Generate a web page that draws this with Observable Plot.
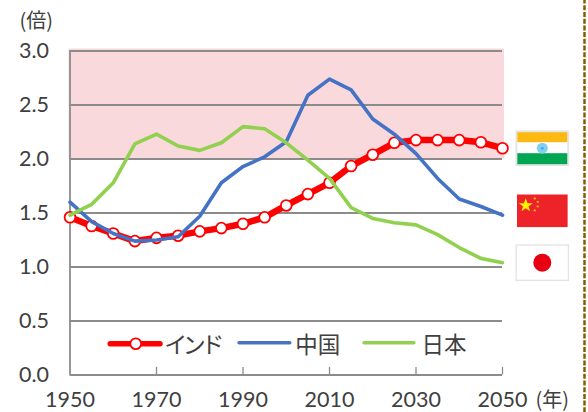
<!DOCTYPE html>
<html><head><meta charset="utf-8">
<script src="https://cdn.jsdelivr.net/npm/d3@7"></script>
<script src="https://cdn.jsdelivr.net/npm/@observablehq/plot@0.6"></script>
<style>html,body{margin:0;padding:0;background:#fff}svg{display:block}</style>
</head><body><div id="chart"></div>
<script>
const years = [1950,1955,1960,1965,1970,1975,1980,1985,1990,1995,2000,2005,2010,2015,2020,2025,2030,2035,2040,2045,2050];
const india = [1.46,1.38,1.31,1.24,1.27,1.29,1.33,1.36,1.40,1.46,1.57,1.675,1.78,1.935,2.04,2.15,2.175,2.175,2.175,2.155,2.10];
const china = [1.60,1.42,1.31,1.24,1.25,1.28,1.47,1.78,1.93,2.02,2.16,2.59,2.74,2.64,2.37,2.23,2.05,1.82,1.63,1.56,1.48];
const japan = [1.48,1.58,1.78,2.14,2.23,2.12,2.08,2.15,2.30,2.28,2.15,1.99,1.82,1.55,1.45,1.41,1.39,1.30,1.18,1.08,1.04];
const yTicks = [0,0.5,1,1.5,2,2.5,3];
const xTicks = [1950,1970,1990,2010,2030,2050];
const xMinor = [1970,1990,2010,2030,2050];
const RED="#ff0000", BLUE="#4472c4", GREEN="#92d050", GRID="#8c8c8c", TXT="#404040";
const font = "'Noto Sans CJK JP','Noto Sans',sans-serif";
const numFont = "Lato,'Noto Sans',sans-serif";

const svgUri = s => "data:image/svg+xml;utf8," + encodeURIComponent(s);
const flagIndia = svgUri(`<svg xmlns="http://www.w3.org/2000/svg" width="54" height="36"><rect width="54" height="36" fill="#e3e3e3"/><rect x="2" y="2" width="50" height="32" fill="#fff"/><rect x="2" y="2" width="50" height="10" fill="#fdb913"/><rect x="2" y="23" width="50" height="11" fill="#00a651"/><circle cx="27" cy="18" r="5.5" fill="#7fd0f2"/><circle cx="27" cy="18" r="1.3" fill="#36a9e1"/></svg>`);
const flagChina = svgUri(`<svg xmlns="http://www.w3.org/2000/svg" width="51" height="33"><rect width="51" height="33" fill="#ee2229"/><polygon points="9,4 10.8,9 16,9 11.8,12 13.3,17 9,14 4.7,17 6.2,12 2,9 7.2,9" fill="#fff200"/><circle cx="18" cy="4" r="1.2" fill="#f9a51a"/><circle cx="21" cy="7.5" r="1.2" fill="#f9a51a"/><circle cx="21" cy="12" r="1.2" fill="#f9a51a"/><circle cx="18" cy="16" r="1.2" fill="#f9a51a"/></svg>`);
const flagJapan = svgUri(`<svg xmlns="http://www.w3.org/2000/svg" width="54" height="37"><rect x="0.75" y="0.75" width="52.5" height="35.5" fill="#fff" stroke="#e3e3e3" stroke-width="1.5"/><circle cx="27" cy="18.5" r="9" fill="#e60012"/></svg>`);
const flags = [
  {x:2059.2, y:2.10, src:flagIndia, w:54, h:36},
  {x:2059.2, y:1.52, src:flagChina, w:51, h:33},
  {x:2059.2, y:1.04, src:flagJapan, w:54, h:37}
];
const row = arr => years.map((yr,i)=>({year:yr,v:arr[i]}));

// legend sits inside the plot at these value levels
const legendLineY = 0.29, legendThinY = 0.298, legendTextY = 0.275;
const legRed = [{x:1959.3,y:legendLineY},{x:1970.8,y:legendLineY}];
const legBlue = [{x:1989.1,y:legendThinY},{x:2000.8,y:legendThinY}];
const legGreen = [{x:2018,y:legendThinY},{x:2029.5,y:legendThinY}];
const legendKana = [{x:1971.8, y:legendTextY, t:"インド"}];
const legendKanji = [
  {x:2002.1, y:legendTextY, t:"中国"},
  {x:2031.3, y:legendTextY, t:"日本"}
];
// dashed border at the right of the picture
const border = [{x:2068.96,y1:-0.35,y2:3.47}];

const chart = Plot.plot({
  width:588, height:412,
  marginLeft:69.5, marginRight:86, marginTop:50.5, marginBottom:37.5,
  style:{fontFamily:font, background:"#fff", overflow:"visible"},
  x:{type:"linear", domain:[1950,2050], axis:null},
  y:{type:"linear", domain:[0,3], axis:null},
  marks:[
    Plot.rect([{x1:1950,x2:2050,y1:2,y2:3}],{x1:"x1",x2:"x2",y1:"y1",y2:"y2",fill:"#f9d9dc",insetLeft:-1,insetRight:-2,insetTop:-2}),
    Plot.ruleY(yTicks,{stroke:GRID,strokeWidth:1.8}),
    Plot.ruleX([1950],{stroke:GRID,strokeWidth:1.8,y1:0,y2:3}),
    Plot.ruleX(xMinor,{y1:0,y2:0.07,stroke:GRID,strokeWidth:1.3}),
    Plot.ruleX(border,{x:"x",y1:"y1",y2:"y2",stroke:"#7f6000",strokeWidth:2.5,strokeDasharray:"5,1.7"}),
    Plot.line(row(india),{x:"year",y:"v",stroke:RED,strokeWidth:6.5}),
    Plot.dot(row(india),{x:"year",y:"v",r:5.4,fill:"#fff",stroke:RED,strokeWidth:1.8}),
    Plot.line(row(china),{x:"year",y:"v",stroke:BLUE,strokeWidth:3.6}),
    Plot.line(row(japan),{x:"year",y:"v",stroke:GREEN,strokeWidth:3.6}),
    Plot.line(legRed,{x:"x",y:"y",stroke:RED,strokeWidth:5.5,strokeLinecap:"round"}),
    Plot.dot([{x:1965.2,y:legendLineY}],{x:"x",y:"y",r:5.4,fill:"#fff",stroke:RED,strokeWidth:1.8}),
    Plot.line(legBlue,{x:"x",y:"y",stroke:BLUE,strokeWidth:3.6,strokeLinecap:"round"}),
    Plot.line(legGreen,{x:"x",y:"y",stroke:GREEN,strokeWidth:3.6,strokeLinecap:"round"}),
    Plot.text(legendKana,{x:"x",y:"y",text:"t",textAnchor:"start",fontSize:23,fill:TXT,letterSpacing:"-4.5px"}),
    Plot.text(legendKanji,{x:"x",y:"y",text:"t",textAnchor:"start",fontSize:22.5,fill:TXT}),
    Plot.text(yTicks,{x:1950,y:d=>d,text:d=>d.toFixed(1),textAnchor:"end",dx:-21,fontSize:21.5,fill:TXT,fontFamily:numFont}),
    Plot.text(xTicks,{x:d=>d,y:0,text:d=>String(d),dy:25.5,fontSize:21.5,fill:TXT,fontFamily:numFont}),
    Plot.text(["(倍)"],{x:1950,y:3,text:d=>d,textAnchor:"end",dx:-17,dy:-29.5,fontSize:20,fill:TXT}),
    Plot.text(["(年)"],{x:2050,y:0,text:d=>d,textAnchor:"start",dx:33,dy:25.5,fontSize:20,fill:TXT}),
    Plot.image(flags,{x:"x",y:"y",src:"src",width:"w",height:"h"})
  ]
});
chart.querySelectorAll("text").forEach(t=>{ if(t.textContent==="インド") t.style.letterSpacing="-4.5px"; });
document.getElementById("chart").append(chart);
</script></body></html>
